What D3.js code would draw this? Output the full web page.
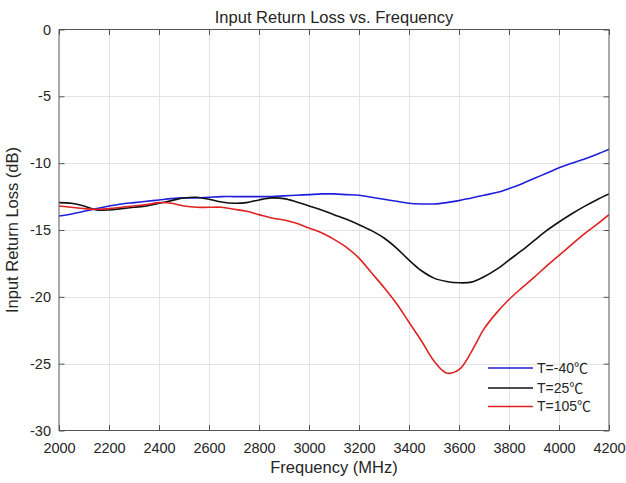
<!DOCTYPE html>
<html>
<head>
<meta charset="utf-8">
<script src="https://cdn.jsdelivr.net/npm/d3@7"></script>
<style>
  html, body { margin: 0; padding: 0; background: #fff; }
  svg { display: block; }
  text { font-family: "Liberation Sans", Arial, "Noto Sans CJK SC", sans-serif; fill: #262626; }
</style>
</head>
<body>
<div id="chart"></div>
<script>
// ---- data ----
const frequencies = [2000,2050,2100,2150,2200,2250,2300,2350,2400,2450,2500,2550,2600,2650,2700,2750,2800,2850,2900,2950,3000,3050,3100,3150,3200,3250,3300,3350,3400,3450,3500,3550,3600,3650,3700,3750,3800,3850,3900,3950,4000,4050,4100,4150,4200];
const seriesNames = ["T=-40℃", "T=25℃", "T=105℃"];
const tMinus40 = [-13.95,-13.8,-13.6,-13.4,-13.2,-13.05,-12.95,-12.85,-12.75,-12.65,-12.6,-12.6,-12.55,-12.5,-12.5,-12.5,-12.5,-12.5,-12.45,-12.4,-12.35,-12.3,-12.3,-12.35,-12.4,-12.55,-12.7,-12.85,-13.0,-13.05,-13.05,-12.95,-12.8,-12.6,-12.4,-12.2,-11.9,-11.55,-11.15,-10.75,-10.35,-10.0,-9.7,-9.35,-8.95];
const t25 = [-12.95,-13.0,-13.2,-13.5,-13.5,-13.4,-13.3,-13.2,-13.0,-12.8,-12.6,-12.55,-12.7,-12.9,-13.0,-12.95,-12.75,-12.6,-12.65,-12.9,-13.2,-13.5,-13.85,-14.2,-14.6,-15.05,-15.6,-16.35,-17.25,-18.05,-18.6,-18.85,-18.95,-18.9,-18.5,-17.95,-17.25,-16.55,-15.8,-15.05,-14.4,-13.8,-13.25,-12.75,-12.3];
const t105 = [-13.2,-13.3,-13.4,-13.45,-13.4,-13.3,-13.2,-13.1,-12.95,-13.0,-13.2,-13.3,-13.3,-13.3,-13.45,-13.6,-13.85,-14.1,-14.25,-14.5,-14.85,-15.2,-15.7,-16.3,-17.1,-18.2,-19.3,-20.5,-21.9,-23.3,-24.8,-25.7,-25.45,-24.1,-22.4,-21.2,-20.2,-19.35,-18.55,-17.7,-16.9,-16.1,-15.3,-14.6,-13.85];
const xTicks = [2000,2200,2400,2600,2800,3000,3200,3400,3600,3800,4000,4200];
const yTicks = [0,-5,-10,-15,-20,-25,-30];
const seriesColors = ["#1f1fdc", "#111111", "#e02222"];

// ---- layout ----
const W = 626, H = 483;
const L = 59, R = 609, T = 29.5, B = 430.5;

const svg = d3.select("#chart").append("svg").attr("width", W).attr("height", H);
svg.append("rect").attr("width", W).attr("height", H).attr("fill", "#fff");

const x = d3.scaleLinear().domain([2000, 4200]).range([L, R]);
const y = d3.scaleLinear().domain([-30, 0]).range([B, T]);

// grid
const grid = svg.append("g").attr("stroke", "#e3e3e3").attr("stroke-width", 1);
grid.selectAll(".gx").data(xTicks.slice(1, -1)).enter().append("line")
  .attr("x1", d => Math.round(x(d)) + 0.5).attr("x2", d => Math.round(x(d)) + 0.5)
  .attr("y1", T).attr("y2", B);
grid.selectAll(".gy").data(yTicks.slice(1, -1)).enter().append("line")
  .attr("y1", d => Math.round(y(d)) + 0.5).attr("y2", d => Math.round(y(d)) + 0.5)
  .attr("x1", L).attr("x2", R);

// series
const data = [tMinus40, t25, t105];
const line = d3.line()
  .x((d, i) => x(frequencies[i]))
  .y(d => y(d))
  .curve(d3.curveCatmullRom.alpha(0.5));
const clip = svg.append("clipPath").attr("id", "clip").append("rect")
  .attr("x", L).attr("y", T).attr("width", R - L).attr("height", B - T);
svg.append("g").attr("clip-path", "url(#clip)")
  .selectAll("path").data(data).enter().append("path")
  .attr("d", d => line(d))
  .attr("fill", "none")
  .attr("stroke", (d, i) => seriesColors[i])
  .attr("stroke-width", 1.6)
  .attr("stroke-linejoin", "round");

// axes
const tickLen = 5.5;
const fmt = d3.format("d");
const axB = svg.append("g").attr("transform", `translate(0,${B})`)
  .call(d3.axisBottom(x).tickValues(xTicks).tickFormat(fmt).tickSizeInner(-tickLen).tickSizeOuter(0).tickPadding(12));
const axL = svg.append("g").attr("transform", `translate(${L},0)`)
  .call(d3.axisLeft(y).tickValues(yTicks).tickFormat(d => d === 0 ? "0" : String(d)).tickSizeInner(-tickLen).tickSizeOuter(0).tickPadding(8));
const axT = svg.append("g").attr("transform", `translate(0,${T})`)
  .call(d3.axisTop(x).tickValues(xTicks).tickFormat("").tickSizeInner(-tickLen).tickSizeOuter(0));
const axR = svg.append("g").attr("transform", `translate(${R},0)`)
  .call(d3.axisRight(y).tickValues(yTicks).tickFormat("").tickSizeInner(-tickLen).tickSizeOuter(0));
[axB, axL, axT, axR].forEach(a => {
  a.select(".domain").remove();
  a.selectAll(".tick line").attr("stroke", "#555");
  a.selectAll("text").attr("font-size", "14.5px").attr("fill", "#262626")
    .attr("font-family", "'Liberation Sans', Arial, sans-serif");
});

// box
svg.append("rect").attr("x", L).attr("y", T).attr("width", R - L).attr("height", B - T)
  .attr("fill", "none").attr("stroke", "#555").attr("stroke-width", 1);

// title & labels
svg.append("text").attr("x", (L + R) / 2).attr("y", 23).attr("text-anchor", "middle")
  .attr("font-size", "16.5px").text("Input Return Loss vs. Frequency");
svg.append("text").attr("x", (L + R) / 2).attr("y", 473).attr("text-anchor", "middle")
  .attr("font-size", "16.5px").text("Frequency (MHz)");
svg.append("text").attr("transform", `translate(18,${(T + B) / 2}) rotate(-90)`).attr("text-anchor", "middle")
  .attr("font-size", "16.5px").text("Input Return Loss (dB)");

// legend
const legY = [368, 388, 406.5];
const leg = svg.append("g");
seriesNames.forEach((name, i) => {
  leg.append("line").attr("x1", 488).attr("x2", 533).attr("y1", legY[i]).attr("y2", legY[i])
    .attr("stroke", seriesColors[i]).attr("stroke-width", 1.6);
  leg.append("text").attr("x", 537).attr("y", legY[i]).attr("dy", "0.35em")
    .attr("font-size", "14px").text(name);
});
</script>
</body>
</html>
